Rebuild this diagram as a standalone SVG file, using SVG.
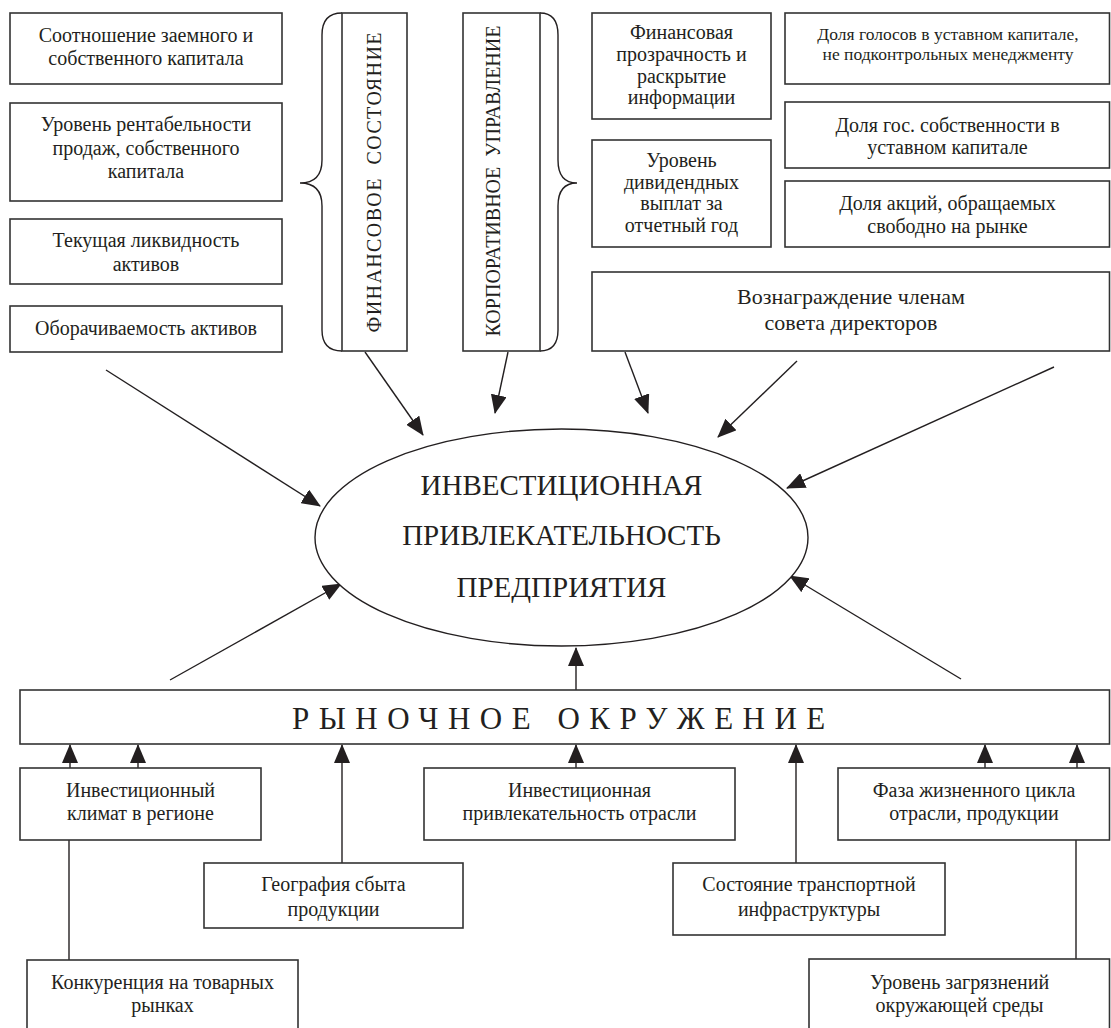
<svg xmlns="http://www.w3.org/2000/svg" width="1111" height="1028" viewBox="0 0 1111 1028">
<style>
text{font-family:"Liberation Serif","Times New Roman",serif;fill:#231f20;text-anchor:middle}
.box{fill:#fff;stroke:#333;stroke-width:1.6}
.t20{font-size:20px}
.t17{font-size:17.5px}
.t23{font-size:22px}
.vt{font-size:20px}
.br{fill:none;stroke:#231f20;stroke-width:1.4}
.ln{fill:none;stroke:#231f20;stroke-width:1.4}
.ar{fill:none;stroke:#231f20;stroke-width:1.4;marker-end:url(#ah)}
</style>
<defs>
<marker id="ah" markerUnits="userSpaceOnUse" viewBox="0 0 19 16" refX="18" refY="8" markerWidth="19" markerHeight="16" orient="auto">
<path d="M0,0 L19,8 L0,16 z" fill="#231f20"/>
</marker>
</defs>
<rect width="1111" height="1028" fill="#fff"/>

<g id="connectors">
<line class="ar" x1="106" y1="370" x2="320" y2="506"/>
<line class="ar" x1="365" y1="352" x2="423" y2="435"/>
<line class="ar" x1="508" y1="352" x2="495" y2="413"/>
<line class="ar" x1="625" y1="352" x2="648" y2="413"/>
<line class="ar" x1="797" y1="361" x2="718" y2="437"/>
<line class="ar" x1="1054" y1="367" x2="787" y2="488"/>
<line class="ar" x1="170" y1="680" x2="341" y2="584"/>
<line class="ar" x1="961" y1="679" x2="790" y2="576"/>
<line class="ar" x1="576" y1="690" x2="576" y2="648"/>
<line class="ar" x1="70" y1="768" x2="70" y2="745"/>
<line class="ar" x1="138" y1="768" x2="138" y2="745"/>
<line class="ar" x1="342" y1="863" x2="342" y2="745"/>
<line class="ar" x1="576" y1="768" x2="576" y2="745"/>
<line class="ar" x1="796" y1="863" x2="796" y2="745"/>
<line class="ar" x1="985" y1="768" x2="985" y2="745"/>
<line class="ar" x1="1077" y1="768" x2="1077" y2="745"/>
<line class="ln" x1="69" y1="840" x2="69" y2="960"/>
<line class="ln" x1="1076" y1="840" x2="1076" y2="959"/>
</g>

<g id="n-sootnoshenie">
<rect class="box" x="10" y="13" width="272" height="71"/>
<text class="t20" x="146" y="42">Соотношение заемного и</text>
<text class="t20" x="146" y="65">собственного капитала</text>
</g>
<g id="n-rentabelnost">
<rect class="box" x="10" y="103" width="272" height="98"/>
<text class="t20" x="146" y="131">Уровень рентабельности</text>
<text class="t20" x="146" y="155">продаж, собственного</text>
<text class="t20" x="146" y="178">капитала</text>
</g>
<g id="n-likvidnost">
<rect class="box" x="10" y="219" width="272" height="65"/>
<text class="t20" x="146" y="247">Текущая ликвидность</text>
<text class="t20" x="146" y="271">активов</text>
</g>
<g id="n-oborachivaemost">
<rect class="box" x="10" y="306" width="272" height="46"/>
<text class="t20" x="146" y="335">Оборачиваемость активов</text>
</g>

<g id="n-fin-sostoyanie">
<path class="br" d="M342,13 Q322,13 322,35 L322,160 Q322,183 300,183 Q322,183 322,206 L322,330 Q322,351 342,351"/>
<rect class="box" x="342" y="13" width="65" height="338"/>
<text class="vt" transform="translate(381,182.5) rotate(-90)" textLength="300" lengthAdjust="spacing" xml:space="preserve">ФИНАНСОВОЕ  СОСТОЯНИЕ</text>
</g>
<g id="n-korp-upravlenie">
<path class="br" d="M540,13 Q558,13 558,35 L558,160 Q558,183 577,183 Q558,183 558,206 L558,330 Q558,351 540,351"/>
<rect class="box" x="463" y="13" width="77" height="338"/>
<text class="vt" transform="translate(500,181) rotate(-90)" textLength="311" lengthAdjust="spacing" xml:space="preserve">КОРПОРАТИВНОЕ  УПРАВЛЕНИЕ</text>
</g>

<g id="n-prozrachnost">
<rect class="box" x="592" y="13" width="179" height="106"/>
<text class="t20" x="681.5" y="39">Финансовая</text>
<text class="t20" x="681.5" y="61">прозрачность и</text>
<text class="t20" x="681.5" y="83">раскрытие</text>
<text class="t20" x="681.5" y="104">информации</text>
</g>
<g id="n-dividendy">
<rect class="box" x="592" y="140" width="179" height="107"/>
<text class="t20" x="681.5" y="167">Уровень</text>
<text class="t20" x="681.5" y="189">дивидендных</text>
<text class="t20" x="681.5" y="210">выплат за</text>
<text class="t20" x="681.5" y="232">отчетный год</text>
</g>
<g id="n-golosa">
<rect class="box" x="785" y="13" width="324.5" height="71"/>
<text class="t17" x="948" y="40">Доля голосов в уставном капитале,</text>
<text class="t17" x="948" y="60">не подконтрольных менеджменту</text>
</g>
<g id="n-gos">
<rect class="box" x="785" y="102" width="324.5" height="66"/>
<text class="t20" x="947.5" y="132">Доля гос. собственности в</text>
<text class="t20" x="947.5" y="154">уставном капитале</text>
</g>
<g id="n-akcii">
<rect class="box" x="785" y="181" width="324.5" height="66"/>
<text class="t20" x="947.5" y="210">Доля акций, обращаемых</text>
<text class="t20" x="947.5" y="233">свободно на рынке</text>
</g>
<g id="n-voznagrazhdenie">
<rect class="box" x="592" y="272" width="517.5" height="79"/>
<text class="t23" x="851" y="304">Вознаграждение членам</text>
<text class="t23" x="851" y="330">совета директоров</text>
</g>

<g id="n-center">
<ellipse cx="561.5" cy="537.5" rx="246.5" ry="108.5" fill="#fff" stroke="#231f20" stroke-width="1.4"/>
<text x="561.5" y="495" font-size="29">ИНВЕСТИЦИОННАЯ</text>
<text x="561.5" y="545" font-size="29">ПРИВЛЕКАТЕЛЬНОСТЬ</text>
<text x="561.5" y="597" font-size="29">ПРЕДПРИЯТИЯ</text>
</g>

<g id="n-rynok">
<rect class="box" x="20" y="690" width="1089.5" height="54"/>
<text x="292" y="729" font-size="31" letter-spacing="9.5" style="text-anchor:start">РЫНОЧНОЕ ОКРУЖЕНИЕ</text>
</g>

<g id="n-klimat">
<rect class="box" x="20" y="768" width="241" height="72"/>
<text class="t20" x="140.5" y="797">Инвестиционный</text>
<text class="t20" x="140.5" y="820">климат в регионе</text>
</g>
<g id="n-otrasl">
<rect class="box" x="424" y="768" width="311" height="72"/>
<text class="t20" x="579.5" y="797">Инвестиционная</text>
<text class="t20" x="579.5" y="820">привлекательность отрасли</text>
</g>
<g id="n-faza">
<rect class="box" x="838" y="768" width="271.5" height="72"/>
<text class="t20" x="974" y="797">Фаза жизненного цикла</text>
<text class="t20" x="974" y="820">отрасли, продукции</text>
</g>
<g id="n-geografiya">
<rect class="box" x="204" y="863" width="259" height="65"/>
<text class="t20" x="333.5" y="891">География сбыта</text>
<text class="t20" x="333.5" y="916">продукции</text>
</g>
<g id="n-transport">
<rect class="box" x="673" y="863" width="272" height="72"/>
<text class="t20" x="809" y="891">Состояние транспортной</text>
<text class="t20" x="809" y="916">инфраструктуры</text>
</g>
<g id="n-konkurenciya">
<rect class="box" x="27" y="960" width="271" height="90"/>
<text class="t20" x="162.5" y="989">Конкуренция на товарных</text>
<text class="t20" x="162.5" y="1012">рынках</text>
</g>
<g id="n-zagryazneniya">
<rect class="box" x="809" y="959" width="300.5" height="90"/>
<text class="t20" x="959.5" y="989">Уровень загрязнений</text>
<text class="t20" x="959.5" y="1012">окружающей среды</text>
</g>
</svg>
